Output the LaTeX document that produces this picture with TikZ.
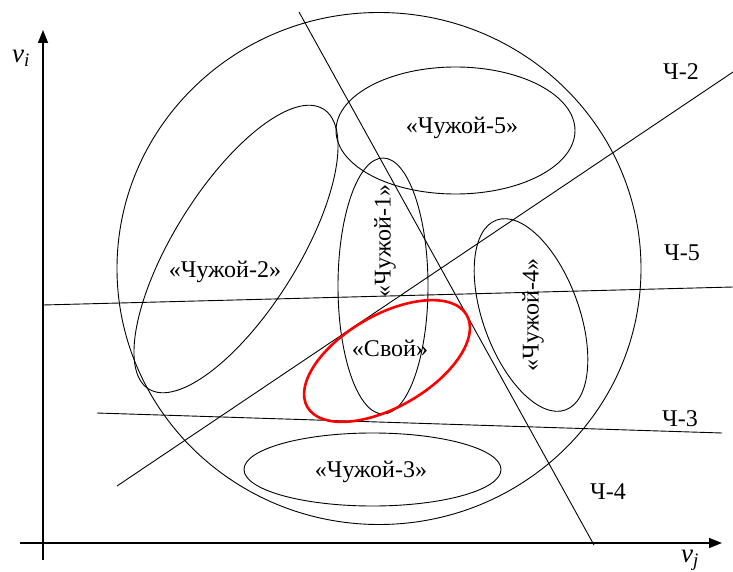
\documentclass[tikz,border=0pt]{standalone}
\usepackage{fontspec}
\setmainfont{Liberation Serif}
\usetikzlibrary{arrows.meta}
\begin{document}
\begin{tikzpicture}[x=1pt,y=-1pt,
  lbl/.style={inner sep=0pt, font=\fontsize{24}{28}\selectfont},
  axlbl/.style={inner sep=0pt, font=\fontsize{27}{30}\selectfont\itshape},
  thinln/.style={line width=0.9pt, black},
  axisln/.style={line width=1.5pt, black, -{Triangle[length=13pt,width=10pt]}},
  redln/.style={line width=2.6pt, red}]
\useasboundingbox (0,0) rectangle (733,572);
% axes
\coordinate (yaxb) at (43,560); \coordinate (yaxt) at (43,30);
\coordinate (xaxl) at (20,543); \coordinate (xaxr) at (722,543);
\draw[axisln] (yaxb) -- (yaxt);
\draw[axisln] (xaxl) -- (xaxr);
\node[axlbl] (vi) at (21,58) {v\textsubscript{i}};
\node[axlbl] (vj) at (690,560) {v\textsubscript{j}};
% big circle
\coordinate (cc) at (379,268.5);
\draw[thinln] (cc) ellipse [x radius=262pt, y radius=256pt];
% separating lines
\coordinate (c4a) at (299,12); \coordinate (c4b) at (594,545);
\coordinate (c2a) at (117,486); \coordinate (c2b) at (733,72);
\coordinate (c5a) at (43,305); \coordinate (c5b) at (733,287);
\coordinate (c3a) at (97,413); \coordinate (c3b) at (722,433);
\draw[thinln] (c4a) -- (c4b);
\draw[thinln] (c2a) -- (c2b);
\draw[thinln] (c5a) -- (c5b);
\draw[thinln] (c3a) -- (c3b);
% ellipses
\coordinate (e5) at (455.5,130.5);
\draw[thinln] (e5) ellipse [x radius=119.5pt, y radius=63.5pt];
\coordinate (e2) at (236,249);
\draw[thinln, rotate around={58:(e2)}] (e2) ellipse [x radius=165pt, y radius=62pt];
\coordinate (e1) at (383,286);
\draw[thinln] (e1) ellipse [x radius=45pt, y radius=128pt];
\coordinate (e4) at (531,315);
\draw[thinln, rotate around={-70:(e4)}] (e4) ellipse [x radius=101pt, y radius=48pt];
\coordinate (e3) at (372.5,469.5);
\draw[thinln] (e3) ellipse [x radius=128.5pt, y radius=36.5pt];
\coordinate (es) at (387,361);
\draw[redln, rotate around={30:(es)}] (es) ellipse [x radius=92pt, y radius=46pt];
% labels
\node[lbl] (l5) at (462,128) {«Чужой-5»};
\node[lbl] (l2) at (225,272) {«Чужой-2»};
\node[lbl, rotate=90] (l1) at (385,241) {«Чужой-1»};
\node[lbl, rotate=90] (l4) at (533,315) {«Чужой-4»};
\node[lbl] (ls) at (390,348) {«Свой»};
\node[lbl] (l3) at (371,472) {«Чужой-3»};
\node[lbl] (t2) at (681,72) {Ч-2};
\node[lbl] (t5) at (682,253) {Ч-5};
\node[lbl] (t3) at (680,419) {Ч-3};
\node[lbl] (t4) at (608,492) {Ч-4};
\end{tikzpicture}
\end{document}
